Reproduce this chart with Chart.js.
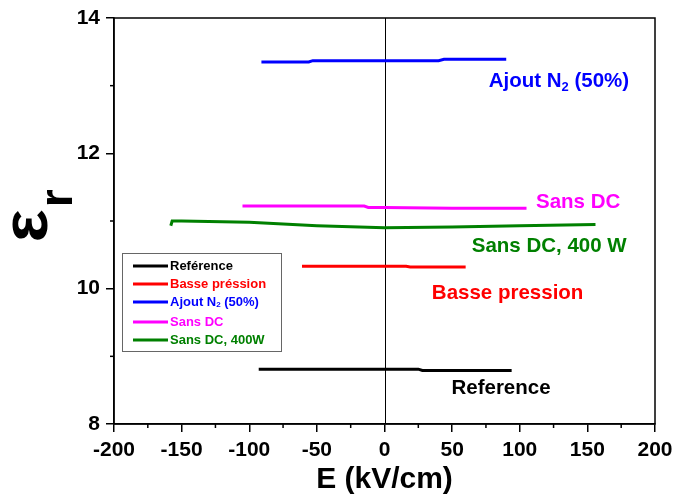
<!DOCTYPE html>
<html>
<head>
<meta charset="utf-8">
<script src="https://cdn.jsdelivr.net/npm/chart.js@4.4.0/dist/chart.umd.min.js"></script>
<style>
  html, body { margin: 0; padding: 0; background: #fff; }
  #wrap { width: 675px; height: 498px; }
</style>
</head>
<body>
<div id="wrap"><canvas id="chart" width="675" height="498"></canvas></div>
<script>
// valeurs
const seriesNames = ["Reférence", "Basse préssion", "Ajout N2 (50%)", "Sans DC", "Sans DC, 400W"];
const seriesColors = ["#000000", "#ff0000", "#0000ff", "#ff00ff", "#008000"];

const refE = [-93, -40, 0, 25, 28, 60, 94];
const refEps = [8.81, 8.81, 8.81, 8.81, 8.79, 8.79, 8.79];

const basseE = [-61, -20, 0, 16, 19, 40, 60];
const basseEps = [10.33, 10.33, 10.33, 10.33, 10.32, 10.32, 10.32];

const ajoutE = [-91, -56, -53, 0, 40, 44, 90];
const ajoutEps = [13.35, 13.35, 13.37, 13.37, 13.37, 13.39, 13.39];

const sansDcE = [-105, -50, -15, -12, 0, 50, 105];
const sansDcEps = [11.22, 11.22, 11.22, 11.20, 11.20, 11.19, 11.19];

const sans400E = [-158, -157, -150, -100, -50, 0, 50, 100, 156];
const sans400Eps = [10.93, 11.00, 11.00, 10.98, 10.93, 10.90, 10.91, 10.93, 10.95];

const xTicks = [-200, -150, -100, -50, 0, 50, 100, 150, 200];
const yTicks = [8, 10, 12, 14];

// étiquettes dans le graphe
const notes = [
  { text: "Ajout N", sub: "2", after: " (50%)", color: "#0000ff", x: 77, y: 12.98 },
  { text: "Sans DC", color: "#ff00ff", x: 112, y: 11.19 },
  { text: "Sans DC, 400 W", color: "#008000", x: 64.5, y: 10.54 },
  { text: "Basse pression", color: "#ff0000", x: 35, y: 9.85 },
  { text: "Reference", color: "#000000", x: 49.5, y: 8.45 }
];

const FONT = "'Liberation Sans', Arial, sans-serif";

function pts(xs, ys) {
  return xs.map((x, i) => ({ x: x, y: ys[i] }));
}

const allData = [
  pts(refE, refEps),
  pts(basseE, basseEps),
  pts(ajoutE, ajoutEps),
  pts(sansDcE, sansDcEps),
  pts(sans400E, sans400Eps)
];

const datasets = allData.map((d, i) => ({
  label: seriesNames[i],
  data: d,
  showLine: true,
  borderColor: seriesColors[i],
  backgroundColor: seriesColors[i],
  borderWidth: 3,
  pointRadius: 0,
  tension: 0
}));

// texte tourné et ajusté dans une boîte (cx, cy centre ; w le long du texte, h épaisseur)
function boxText(ctx, str, font, cx, cy, w, h) {
  ctx.save();
  ctx.translate(cx, cy);
  ctx.rotate(-Math.PI / 2);
  ctx.font = font;
  ctx.textAlign = "left";
  ctx.textBaseline = "alphabetic";
  const m = ctx.measureText(str);
  const gw = m.actualBoundingBoxLeft + m.actualBoundingBoxRight;
  const gh = m.actualBoundingBoxAscent + m.actualBoundingBoxDescent;
  ctx.scale(w / gw, h / gh);
  ctx.fillText(str, -gw / 2 + m.actualBoundingBoxLeft, -gh / 2 + m.actualBoundingBoxAscent);
  ctx.restore();
}

// cadre, petits traits, ligne x=0, textes
const decor = {
  id: "decor",
  beforeDatasetsDraw(chart) {
    const { ctx, chartArea: a, scales: { x } } = chart;
    ctx.save();
    ctx.strokeStyle = "#000";
    ctx.lineWidth = 1;
    const x0 = Math.round(x.getPixelForValue(0)) + 0.5;
    ctx.beginPath();
    ctx.moveTo(x0, a.top);
    ctx.lineTo(x0, a.bottom);
    ctx.stroke();
    ctx.restore();
  },
  afterDraw(chart) {
    const { ctx, chartArea: a, scales: { x, y } } = chart;
    ctx.save();
    ctx.strokeStyle = "#000";
    ctx.lineWidth = 1.5;
    ctx.strokeRect(a.left, a.top, a.right - a.left, a.bottom - a.top);

    // petits traits
    for (let v = -175; v <= 175; v += 50) {
      const px = x.getPixelForValue(v);
      ctx.beginPath();
      ctx.moveTo(px, a.bottom);
      ctx.lineTo(px, a.bottom + 4);
      ctx.stroke();
    }
    for (let v = 9; v <= 13; v += 2) {
      const py = y.getPixelForValue(v);
      ctx.beginPath();
      ctx.moveTo(a.left, py);
      ctx.lineTo(a.left - 4, py);
      ctx.stroke();
    }
    ctx.restore();

    // titre y : epsilon r
    ctx.save();
    ctx.fillStyle = "#000";
    boxText(ctx, "ε", "bold 60px " + FONT, 30, 225, 30, 36);
    boxText(ctx, "r", "bold 40px " + FONT, 59.5, 197.5, 15, 25);
    ctx.restore();

    // textes annotés
    ctx.save();
    ctx.textBaseline = "alphabetic";
    ctx.textAlign = "left";
    notes.forEach(n => {
      let px = x.getPixelForValue(n.x);
      const py = y.getPixelForValue(n.y);
      ctx.fillStyle = n.color;
      ctx.font = "bold 20.5px " + FONT;
      ctx.fillText(n.text, px, py);
      px += ctx.measureText(n.text).width;
      if (n.sub) {
        ctx.font = "bold 13px " + FONT;
        ctx.fillText(n.sub, px, py + 4);
        px += ctx.measureText(n.sub).width;
        ctx.font = "bold 20.5px " + FONT;
        ctx.fillText(n.after, px, py);
      }
    });
    ctx.restore();

    // légende
    ctx.save();
    const lx = 122, ly = 253, lw = 159, lh = 98;
    ctx.fillStyle = "#fff";
    ctx.fillRect(lx, ly, lw, lh);
    ctx.strokeStyle = "#666";
    ctx.lineWidth = 1;
    ctx.strokeRect(lx + 0.5, ly + 0.5, lw, lh);
    const rows = [266, 284, 302, 322, 340];
    chart.data.datasets.forEach((ds, i) => {
      const ry = rows[i];
      ctx.strokeStyle = ds.borderColor;
      ctx.lineWidth = 3;
      ctx.beginPath();
      ctx.moveTo(133, ry);
      ctx.lineTo(168, ry);
      ctx.stroke();
      ctx.fillStyle = ds.borderColor;
      ctx.textBaseline = "middle";
      ctx.font = "bold 13px " + FONT;
      if (i === 2) {
        ctx.fillText("Ajout N", 170, ry);
        let px = 170 + ctx.measureText("Ajout N").width;
        ctx.font = "bold 8px " + FONT;
        ctx.fillText("2", px, ry + 3);
        px += ctx.measureText("2").width;
        ctx.font = "bold 13px " + FONT;
        ctx.fillText(" (50%)", px, ry);
      } else {
        ctx.fillText(ds.label, 170, ry);
      }
    });
    ctx.restore();
  }
};

const ctx = document.getElementById("chart").getContext("2d");
new Chart(ctx, {
  type: "scatter",
  data: { datasets: datasets },
  options: {
    responsive: false,
    animation: false,
    layout: { padding: { top: 18, right: 20, left: 0, bottom: 0 } },
    plugins: {
      legend: { display: false },
      tooltip: { enabled: false }
    },
    scales: {
      x: {
        type: "linear",
        min: -200,
        max: 200,
        afterBuildTicks: s => { s.ticks = xTicks.map(v => ({ value: v })); },
        afterFit: s => { s.height = 74; s.paddingLeft = 0; s.paddingRight = 0; },
        grid: { drawOnChartArea: false, drawTicks: true, tickLength: 8, color: "#000", lineWidth: 1.5 },
        border: { display: true, color: "#000", width: 1.5 },
        ticks: {
          color: "#000",
          padding: 6,
          maxRotation: 0,
          font: { family: FONT, size: 21, weight: "bold" }
        },
        title: {
          display: true,
          text: "E (kV/cm)",
          color: "#000",
          padding: { top: 0, bottom: 0 },
          font: { family: FONT, size: 30, weight: "bold" }
        }
      },
      y: {
        type: "linear",
        min: 8,
        max: 14,
        afterBuildTicks: s => { s.ticks = yTicks.map(v => ({ value: v })); },
        afterFit: s => { s.width = 114; s.paddingTop = 0; s.paddingBottom = 0; },
        grid: { drawOnChartArea: false, drawTicks: true, tickLength: 8, color: "#000", lineWidth: 1.5 },
        border: { display: true, color: "#000", width: 1.5 },
        ticks: {
          color: "#000",
          padding: 6,
          font: { family: FONT, size: 21, weight: "bold" }
        }
      }
    }
  },
  plugins: [decor]
});
</script>
</body>
</html>
